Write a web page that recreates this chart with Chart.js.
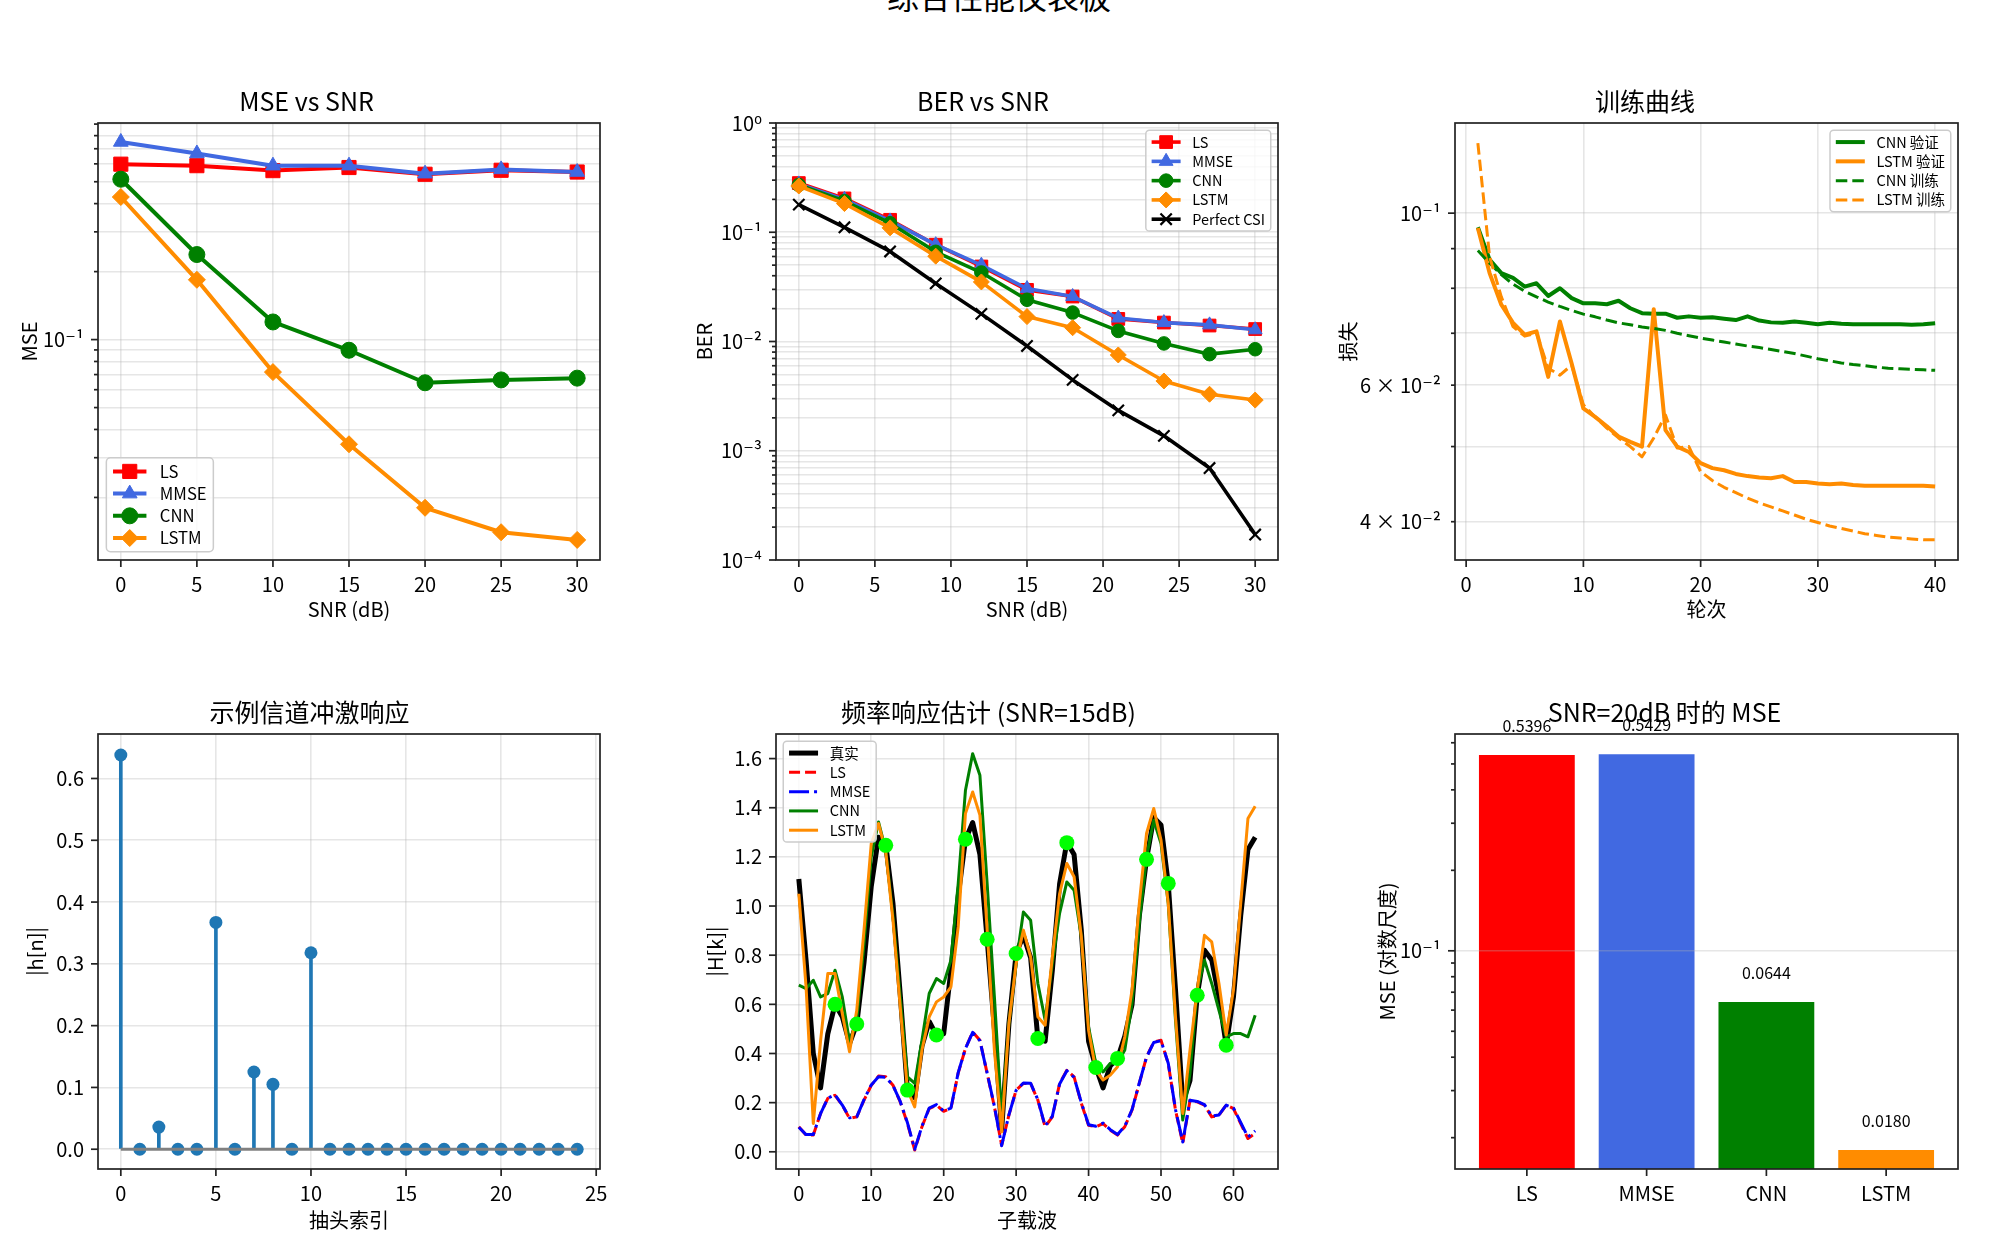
<!DOCTYPE html>
<html>
<head>
<meta charset="utf-8">
<script src="https://cdn.jsdelivr.net/npm/chart.js@4.4.1/dist/chart.umd.min.js"></script>
<style>
  html, body { margin: 0; padding: 0; background: #fff; }
  body { width: 2007px; height: 1233px; overflow: hidden; position: relative; }
  #suptitle { position: absolute; left: 0; width: 1998px; top: -21px; text-align: center;
    font: 32px 'Noto Sans CJK SC', sans-serif; line-height: 32px; color: #000; }
  canvas { position: absolute; }
</style>
</head>
<body>
<div id="suptitle">综合性能仪表板</div>
<script>
// ---- data: MSE vs SNR ----
const snrMse = [0, 5, 10, 15, 20, 25, 30];
const mseLS = [0.598, 0.589, 0.560, 0.578, 0.5396, 0.562, 0.552];
const mseMMSE = [0.750, 0.667, 0.589, 0.589, 0.5429, 0.567, 0.552];
const mseCNN = [0.513, 0.238, 0.1197, 0.0897, 0.0644, 0.0663, 0.0675];
const mseLSTM = [0.428, 0.184, 0.0718, 0.0344, 0.0180, 0.01403, 0.01297];

// ---- data: BER vs SNR ----
const snrBer = [0, 3, 6, 9, 12, 15, 18, 21, 24, 27, 30];
const berLS = [0.282, 0.204, 0.130, 0.0769, 0.0486, 0.0297, 0.0258, 0.0161, 0.0149, 0.0140, 0.0130];
const berMMSE = [0.277, 0.200, 0.127, 0.0770, 0.0500, 0.0305, 0.0258, 0.0164, 0.0149, 0.0142, 0.0128];
const berCNN = [0.271, 0.193, 0.121, 0.0662, 0.0428, 0.0241, 0.0184, 0.0125, 0.0096, 0.00766, 0.0085];
const berLSTM = [0.265, 0.183, 0.1097, 0.0604, 0.0351, 0.0169, 0.01337, 0.00753, 0.00435, 0.00329, 0.00291];
const berPerfect = [0.179, 0.111, 0.0667, 0.0340, 0.0179, 0.0091, 0.00445, 0.00234, 0.00137, 0.000695, 0.000171];

// ---- data: training curves ----
const epochs = Array.from({length: 40}, (_, i) => i + 1);
const cnnVal = [0.0959, 0.0871, 0.0837, 0.0825, 0.0804, 0.0812, 0.0782, 0.0800, 0.0777, 0.0765,
  0.0765, 0.0763, 0.0771, 0.0754, 0.0743, 0.0742, 0.0742, 0.0733, 0.0736, 0.0733,
  0.0734, 0.0731, 0.0728, 0.0736, 0.0727, 0.0723, 0.0722, 0.0725, 0.0722, 0.0719,
  0.0722, 0.0720, 0.0719, 0.0719, 0.0719, 0.0719, 0.0719, 0.0718, 0.0719, 0.0721];
const lstmVal = [0.0957, 0.0837, 0.0762, 0.0722, 0.0697, 0.0704, 0.0615, 0.0725, 0.0640, 0.0560,
  0.0546, 0.0531, 0.0515, 0.0507, 0.0500, 0.0752, 0.0525, 0.0500, 0.0492, 0.0476,
  0.0469, 0.0466, 0.0461, 0.0458, 0.0456, 0.0455, 0.0458, 0.0450, 0.0450, 0.0448,
  0.0447, 0.0448, 0.0446, 0.0445, 0.0445, 0.0445, 0.0445, 0.0445, 0.0445, 0.0444];
const cnnTrain = [0.0895, 0.0862, 0.0833, 0.0810, 0.0793, 0.0780, 0.0768, 0.0758, 0.0749, 0.0741,
  0.0735, 0.0728, 0.0722, 0.0718, 0.0713, 0.0710, 0.0706, 0.0700, 0.0695, 0.0690,
  0.0686, 0.0682, 0.0678, 0.0674, 0.0671, 0.0667, 0.0663, 0.0659, 0.0654, 0.0649,
  0.0645, 0.0641, 0.0638, 0.0636, 0.0633, 0.0631, 0.0630, 0.0629, 0.0628, 0.0627];
const lstmTrain = [0.1231, 0.0879, 0.0780, 0.0714, 0.0694, 0.0700, 0.0631, 0.0618, 0.0637, 0.0566,
  0.0546, 0.0528, 0.0513, 0.0500, 0.0485, 0.0513, 0.0549, 0.0498, 0.0500, 0.0464,
  0.0452, 0.0443, 0.0436, 0.0429, 0.0423, 0.0418, 0.0413, 0.0408, 0.0403, 0.0399,
  0.0395, 0.0392, 0.0389, 0.0386, 0.0384, 0.0382, 0.0381, 0.0380, 0.0379, 0.0379];

// ---- data: channel impulse response ----
const taps = Array.from({length: 25}, (_, i) => i);
const tapMag = [0.638, 0, 0.0358, 0, 0, 0.367, 0, 0.125, 0.105, 0, 0.318, 0, 0, 0, 0, 0, 0, 0, 0, 0, 0, 0, 0, 0, 0];

// ---- data: frequency response (64 subcarriers) ----
const subc = Array.from({length: 64}, (_, i) => i);
const hTrue = [1.11, 0.78, 0.40, 0.26, 0.48, 0.60, 0.55, 0.44, 0.52, 0.77,
  1.08, 1.28, 1.25, 1.01, 0.64, 0.25, 0.22, 0.43, 0.53, 0.475,
  0.48, 0.74, 1.04, 1.27, 1.34, 1.21, 0.865, 0.50, 0.09, 0.52,
  0.807, 0.88, 0.79, 0.46, 0.45, 0.74, 1.09, 1.26, 1.21, 0.90,
  0.45, 0.345, 0.26, 0.35, 0.38, 0.47, 0.60, 0.96, 1.19, 1.36,
  1.33, 1.09, 0.66, 0.20, 0.29, 0.637, 0.82, 0.78, 0.63, 0.434,
  0.63, 0.96, 1.23, 1.28];
const hLS = [0.102, 0.068, 0.068, 0.156, 0.217, 0.23, 0.19, 0.136, 0.142, 0.21,
  0.27, 0.308, 0.305, 0.271, 0.203, 0.115, 0.007, 0.102, 0.176, 0.19,
  0.165, 0.176, 0.32, 0.42, 0.488, 0.454, 0.319, 0.183, 0.027, 0.149,
  0.251, 0.278, 0.278, 0.21, 0.102, 0.142, 0.278, 0.332, 0.305, 0.197,
  0.108, 0.102, 0.115, 0.088, 0.068, 0.102, 0.17, 0.278, 0.386, 0.447,
  0.454, 0.359, 0.17, 0.034, 0.21, 0.203, 0.19, 0.142, 0.149, 0.19,
  0.176, 0.115, 0.054, 0.075];
const hMMSE = [0.100, 0.070, 0.070, 0.155, 0.218, 0.232, 0.19, 0.138, 0.142, 0.212,
  0.272, 0.305, 0.303, 0.27, 0.205, 0.118, 0.010, 0.104, 0.178, 0.192,
  0.166, 0.178, 0.322, 0.42, 0.486, 0.452, 0.32, 0.185, 0.025, 0.15,
  0.25, 0.28, 0.279, 0.212, 0.105, 0.145, 0.276, 0.33, 0.303, 0.2,
  0.11, 0.104, 0.117, 0.09, 0.07, 0.104, 0.172, 0.28, 0.385, 0.445,
  0.452, 0.36, 0.172, 0.04, 0.21, 0.205, 0.192, 0.145, 0.15, 0.19,
  0.178, 0.12, 0.06, 0.085];
const hCNN = [0.678, 0.664, 0.698, 0.63, 0.644, 0.739, 0.63, 0.447, 0.536, 0.847,
  1.2, 1.342, 1.227, 0.956, 0.63, 0.305, 0.278, 0.454, 0.644, 0.705,
  0.685, 0.78, 1.09, 1.47, 1.62, 1.532, 1.09, 0.63, 0.14, 0.522,
  0.766, 0.976, 0.942, 0.685, 0.536, 0.766, 0.97, 1.098, 1.064, 0.875,
  0.508, 0.359, 0.325, 0.36, 0.36, 0.414, 0.603, 0.929, 1.2, 1.349,
  1.254, 1.01, 0.536, 0.129, 0.319, 0.658, 0.78, 0.685, 0.576, 0.468,
  0.481, 0.481, 0.468, 0.556];
const hLSTM = [1.05, 0.671, 0.115, 0.45, 0.725, 0.725, 0.563, 0.407, 0.576, 0.902,
  1.254, 1.336, 1.22, 0.942, 0.59, 0.251, 0.183, 0.414, 0.549, 0.61,
  0.63, 0.671, 0.915, 1.376, 1.464, 1.37, 0.902, 0.414, 0.081, 0.522,
  0.766, 0.902, 0.793, 0.549, 0.515, 0.793, 1.05, 1.173, 1.119, 0.875,
  0.495, 0.332, 0.292, 0.312, 0.346, 0.468, 0.658, 1.01, 1.295, 1.397,
  1.268, 1.01, 0.549, 0.156, 0.414, 0.658, 0.881, 0.854, 0.685, 0.475,
  0.658, 1.01, 1.356, 1.406];
const pilotIdx = [5, 8, 12, 15, 19, 23, 26, 30, 33, 37, 41, 44, 48, 51, 55, 59];
const pilotVal = [0.60, 0.52, 1.247, 0.251, 0.475, 1.272, 0.865, 0.807, 0.461, 1.258, 0.343, 0.38, 1.19, 1.092, 0.637, 0.434];

// ---- data: MSE at SNR=20dB ----
const mseCats = ['LS', 'MMSE', 'CNN', 'LSTM'];
const mse20 = [0.5396, 0.5429, 0.0644, 0.0180];
const barColors = ['#ff0000', '#4169e1', '#008000', '#ff8c00'];

const FONT = "'Noto Sans CJK SC', 'DejaVu Sans', sans-serif";
const GRID = 'rgba(176,176,176,0.32)';
Chart.defaults.font.family = FONT;
Chart.defaults.color = '#000';

const TH = 47, RP = 30;
const SUP = {'-': '⁻', '0': '⁰', '1': '¹', '2': '²', '3': '³', '4': '⁴', '5': '⁵', '6': '⁶', '7': '⁷', '8': '⁸', '9': '⁹'};
const isPow10 = v => Math.abs(Math.log10(v) - Math.round(Math.log10(v))) < 1e-9;
const pow10Label = v => '10' + String(Math.round(Math.log10(v))).split('').map(c => SUP[c]).join('');

function logTicks(min, max) {
  const out = [];
  for (let e = Math.floor(Math.log10(min)); e <= Math.ceil(Math.log10(max)); e++) {
    for (let m = 1; m <= 9; m++) {
      const v = +(m * Math.pow(10, e)).toPrecision(6);
      if (v >= min * 0.9999 && v <= max * 1.0001) out.push(v);
    }
  }
  return out;
}

// matplotlib-like frame, tick marks, bar labels and in-axes legend
const mplPlugin = {
  id: 'mpl',
  afterDraw(chart, args, o) {
    const ctx = chart.ctx, a = chart.chartArea;
    ctx.save();
    ctx.strokeStyle = '#222';
    ctx.lineWidth = 1.7;
    ctx.setLineDash([]);
    for (const s of [chart.scales.x, chart.scales.y]) {
      for (const t of s.ticks) {
        const p = s.getPixelForValue(t.value);
        const len = (s.type === 'logarithmic' && !isPow10(t.value)) ? 4 : 7;
        ctx.beginPath();
        if (s.axis === 'x') { ctx.moveTo(p, a.bottom); ctx.lineTo(p, a.bottom + len); }
        else { ctx.moveTo(a.left, p); ctx.lineTo(a.left - len, p); }
        ctx.stroke();
      }
    }
    ctx.strokeRect(a.left, a.top, a.right - a.left, a.bottom - a.top);

    if (o.barLabels) {
      const ds = chart.data.datasets[0];
      ctx.font = '16px ' + FONT;
      ctx.fillStyle = '#000';
      ctx.textAlign = 'center';
      ctx.textBaseline = 'bottom';
      ds.data.forEach(p => {
        ctx.fillText(p.y.toFixed(4), chart.scales.x.getPixelForValue(p.x), chart.scales.y.getPixelForValue(p.y * 1.2));
      });
    }

    if (o.legend) drawLegend(chart, o.legend);
    ctx.restore();
  }
};
Chart.register(mplPlugin);

function drawLegend(chart, L) {
  const ctx = chart.ctx, a = chart.chartArea, fs = L.size;
  const items = L.items.map(i => chart.data.datasets[i]);
  ctx.font = fs + 'px ' + FONT;
  const tw = Math.max(...items.map(d => ctx.measureText(d.label).width));
  const w = 3.6 * fs + tw, rowH = 1.33 * fs, h = (0.3 + 1.33 * items.length) * fs;
  const gap = 0.5 * fs;
  const x = L.loc.includes('left') ? a.left + gap : a.right - gap - w;
  const y = L.loc.includes('upper') ? a.top + gap : a.bottom - gap - h;
  ctx.beginPath();
  ctx.roundRect(x, y, w, h, 0.25 * fs);
  ctx.fillStyle = 'rgba(255,255,255,0.8)';
  ctx.fill();
  ctx.strokeStyle = '#cccccc';
  ctx.lineWidth = 1.5;
  ctx.stroke();
  items.forEach((d, i) => {
    const cy = y + 0.4 * fs + 0.415 * fs + i * rowH;
    const x0 = x + 0.4 * fs, x1 = x + 2.4 * fs;
    ctx.save();
    ctx.strokeStyle = d.borderColor;
    ctx.lineWidth = d.borderWidth;
    ctx.setLineDash(d.borderDash || []);
    ctx.beginPath(); ctx.moveTo(x0, cy); ctx.lineTo(x1, cy); ctx.stroke();
    ctx.setLineDash([]);
    if (d.pointRadius) {
      ctx.fillStyle = d.pointBackgroundColor;
      ctx.strokeStyle = d.pointBorderColor;
      ctx.lineWidth = d.pointBorderWidth;
      Chart.helpers.drawPoint(ctx, {pointStyle: d.pointStyle, radius: d.pointRadius, rotation: 0, borderWidth: d.pointBorderWidth}, (x0 + x1) / 2, cy);
    }
    ctx.restore();
    ctx.fillStyle = '#000';
    ctx.textAlign = 'left';
    ctx.textBaseline = 'middle';
    ctx.font = fs + 'px ' + FONT;
    ctx.fillText(d.label, x + 3.2 * fs, cy);
  });
}

function makeCanvas(g) {
  const c = document.createElement('canvas');
  c.width = (g.R - g.L) + g.YW + RP;
  c.height = (g.B - g.T) + TH + g.XH;
  c.style.left = (g.L - g.YW) + 'px';
  c.style.top = (g.T - TH) + 'px';
  document.body.appendChild(c);
  return c;
}

function linAxis(g, min, max, ticks, title, fmt, isX) {
  return {
    type: 'linear', min, max, offset: false,
    afterBuildTicks: s => { s.ticks = ticks.map(v => ({value: v})); },
    afterFit: s => { if (isX) s.height = g.XH; else s.width = g.YW; },
    ticks: {autoSkip: false, maxRotation: 0, padding: isX ? 12 : 14, font: {size: 20}, color: '#000', callback: fmt},
    grid: {color: GRID, lineWidth: 1.6, drawTicks: false, offset: false},
    border: {display: false},
    title: {display: !!title, text: title, font: {size: 20}, color: '#000'}
  };
}

function logAxis(g, min, max, title, fmt, grid) {
  return {
    type: 'logarithmic', min, max,
    afterBuildTicks: s => { s.ticks = logTicks(min, max).map(v => ({value: v})); },
    afterFit: s => { s.width = g.YW; },
    ticks: {autoSkip: false, padding: 14, font: {size: 20}, color: '#000', callback: fmt},
    grid: grid || {color: GRID, lineWidth: 1.6, drawTicks: false},
    border: {display: false},
    title: {display: true, text: title, font: {size: 20}, color: '#000'}
  };
}

function baseOptions(title, scales, mpl) {
  return {
    responsive: false, animation: false, events: [],
    layout: {padding: {left: 0, top: 0, right: RP, bottom: 0}},
    plugins: {
      legend: {display: false}, tooltip: {enabled: false},
      title: {display: true, text: title, font: {size: 25, weight: 'normal'}, color: '#000', padding: {top: 10, bottom: 7}},
      mpl: mpl || {}
    },
    scales
  };
}

function pts(xs, ys) { return xs.map((x, i) => ({x, y: ys[i]})); }

function series(label, xs, ys, color, lw, extra) {
  return Object.assign({
    label, data: pts(xs, ys), borderColor: color, backgroundColor: color, borderWidth: lw,
    pointRadius: 0, pointBackgroundColor: color, pointBorderColor: color, pointBorderWidth: 1,
    tension: 0, borderJoinStyle: 'round', fill: false
  }, extra || {});
}

function ordered(list) { list.forEach((d, i) => { d.order = list.length - i; }); return list; }

const snrFmt = v => String(v);
const logMajorFmt = v => isPow10(v) ? pow10Label(v) : '';

// ---- 1. MSE vs SNR ----
const g1 = {L: 98, T: 123, R: 600, B: 560, YW: 85, XH: 65};
new Chart(makeCanvas(g1), {
  type: 'line',
  data: {datasets: ordered([
    series('LS', snrMse, mseLS, '#ff0000', 4, {pointStyle: 'rect', pointRadius: 10}),
    series('MMSE', snrMse, mseMMSE, '#4169e1', 4, {pointStyle: 'triangle', pointRadius: 8.5}),
    series('CNN', snrMse, mseCNN, '#008000', 4, {pointStyle: 'circle', pointRadius: 8}),
    series('LSTM', snrMse, mseLSTM, '#ff8c00', 4, {pointStyle: 'rectRot', pointRadius: 8.5})
  ])},
  options: baseOptions('MSE vs SNR', {
    x: linAxis(g1, -1.5, 31.5, [0, 5, 10, 15, 20, 25, 30], 'SNR (dB)', snrFmt, true),
    y: logAxis(g1, 0.01057, 0.91, 'MSE', logMajorFmt)
  }, {legend: {loc: 'lower left', size: 16.7, items: [0, 1, 2, 3]}})
});

// ---- 2. BER vs SNR ----
const g2 = {L: 776, T: 123, R: 1278, B: 560, YW: 88, XH: 65};
new Chart(makeCanvas(g2), {
  type: 'line',
  data: {datasets: ordered([
    series('LS', snrBer, berLS, '#ff0000', 3.6, {pointStyle: 'rect', pointRadius: 9}),
    series('MMSE', snrBer, berMMSE, '#4169e1', 3.6, {pointStyle: 'triangle', pointRadius: 8}),
    series('CNN', snrBer, berCNN, '#008000', 3.6, {pointStyle: 'circle', pointRadius: 6.8}),
    series('LSTM', snrBer, berLSTM, '#ff8c00', 3.6, {pointStyle: 'rectRot', pointRadius: 8}),
    series('Perfect CSI', snrBer, berPerfect, '#000000', 3.6, {pointStyle: 'crossRot', pointRadius: 8, pointBorderWidth: 2.2})
  ])},
  options: baseOptions('BER vs SNR', {
    x: linAxis(g2, -1.5, 31.5, [0, 5, 10, 15, 20, 25, 30], 'SNR (dB)', snrFmt, true),
    y: logAxis(g2, 1e-4, 1, 'BER', logMajorFmt)
  }, {legend: {loc: 'upper right', size: 14.5, items: [0, 1, 2, 3, 4]}})
});

// ---- 3. training curves ----
const g3 = {L: 1455, T: 123, R: 1958, B: 560, YW: 123, XH: 65};
const lossFmt = v => {
  if (isPow10(v)) return pow10Label(v);
  const e = Math.floor(Math.log10(v) + 1e-9), m = Math.round(v / Math.pow(10, e));
  return (m === 4 || m === 6) ? m + ' × ' + pow10Label(Math.pow(10, e)) : '';
};
new Chart(makeCanvas(g3), {
  type: 'line',
  data: {datasets: ordered([
    series('CNN 验证', epochs, cnnVal, '#008000', 4),
    series('LSTM 验证', epochs, lstmVal, '#ff8c00', 4),
    series('CNN 训练', epochs, cnnTrain, '#008000', 3, {borderDash: [11.5, 5]}),
    series('LSTM 训练', epochs, lstmTrain, '#ff8c00', 3, {borderDash: [11.5, 5]})
  ])},
  options: baseOptions('训练曲线', {
    x: linAxis(g3, -0.95, 41.95, [0, 10, 20, 30, 40], '轮次', snrFmt, true),
    y: logAxis(g3, 0.0357, 0.1307, '损失', lossFmt)
  }, {legend: {loc: 'upper right', size: 14.5, items: [0, 1, 2, 3]}})
});

// ---- 4. channel impulse response (stem) ----
const g4 = {L: 98, T: 734, R: 600, B: 1169, YW: 79, XH: 67};
new Chart(makeCanvas(g4), {
  type: 'line',
  data: {datasets: [
    {type: 'bar', label: '|h[n]|', data: pts(taps, tapMag), backgroundColor: '#1f77b4', barThickness: 3, order: 3},
    {type: 'line', label: 'marker', data: pts(taps, tapMag), showLine: false, pointRadius: 6.5,
      pointBackgroundColor: '#1f77b4', pointBorderColor: '#1f77b4', pointBorderWidth: 0, order: 2},
    {type: 'line', label: 'baseline', data: [{x: taps[0], y: 0}, {x: taps[taps.length - 1], y: 0}],
      borderColor: '#808080', borderWidth: 3, pointRadius: 0, order: 1}
  ]},
  options: baseOptions('示例信道冲激响应', {
    x: linAxis(g4, -1.2, 25.2, [0, 5, 10, 15, 20, 25], '抽头索引', snrFmt, true),
    y: linAxis(g4, -0.032, 0.672, [0, 0.1, 0.2, 0.3, 0.4, 0.5, 0.6], '|h[n]|', v => v.toFixed(1), false)
  })
});

// ---- 5. frequency response ----
const g5 = {L: 776, T: 734, R: 1278, B: 1169, YW: 77, XH: 67};
new Chart(makeCanvas(g5), {
  type: 'line',
  data: {datasets: ordered([
    series('真实', subc, hTrue, '#000000', 5),
    series('LS', subc, hLS, '#ff0000', 3, {borderDash: [11, 5]}),
    series('MMSE', subc, hMMSE, '#0000ff', 3, {borderDash: [20, 5, 3, 5]}),
    series('CNN', subc, hCNN, '#008000', 3),
    series('LSTM', subc, hLSTM, '#ff8c00', 3),
    series('导频', pilotIdx, pilotVal, '#00ff00', 0, {showLine: false, pointRadius: 7.5, pointBorderWidth: 0})
  ])},
  options: baseOptions('频率响应估计 (SNR=15dB)', {
    x: linAxis(g5, -3.15, 66.15, [0, 10, 20, 30, 40, 50, 60], '子载波', snrFmt, true),
    y: linAxis(g5, -0.07, 1.70, [0, 0.2, 0.4, 0.6, 0.8, 1.0, 1.2, 1.4, 1.6], '|H[k]|', v => v.toFixed(1), false)
  }, {legend: {loc: 'upper left', size: 14.5, items: [0, 1, 2, 3, 4]}})
});

// ---- 6. MSE at SNR=20dB (log bars) ----
const g6 = {L: 1455, T: 734, R: 1958, B: 1169, YW: 84, XH: 67};
const x6 = linAxis(g6, -0.6, 3.6, [0, 1, 2, 3], '', v => mseCats[v], true);
x6.grid = {display: false, drawTicks: false, offset: false};
new Chart(makeCanvas(g6), {
  type: 'bar',
  data: {datasets: [{
    label: 'MSE', data: pts(mseCats.map((_, i) => i), mse20), backgroundColor: barColors,
    barPercentage: 0.8, categoryPercentage: 1.0
  }]},
  options: baseOptions('SNR=20dB 时的 MSE', {
    x: x6,
    y: logAxis(g6, 0.01527, 0.647, 'MSE (对数尺度)', logMajorFmt, {
      color: c => (c.tick && isPow10(c.tick.value)) ? GRID : 'rgba(0,0,0,0)',
      lineWidth: 1.6, drawTicks: false, z: 1
    })
  }, {barLabels: true})
});
</script>
</body>
</html>
